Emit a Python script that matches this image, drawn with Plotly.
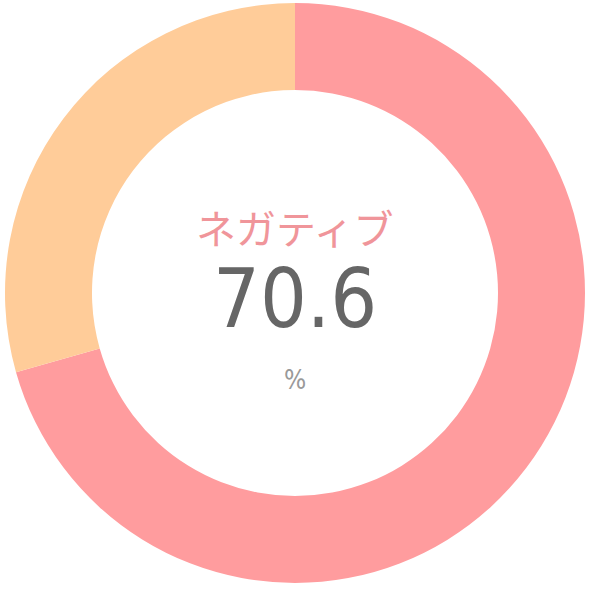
import plotly.graph_objects as go

labels = ["ネガティブ", "その他"]
values = [70.6, 29.4]
colors = ["#FF9C9E", "#FFCC99"]
center_label = "ネガティブ"
center_value = "70.6"
center_unit = "%"

fig = go.Figure(go.Pie(
    labels=labels,
    values=values,
    hole=0.70,
    sort=False,
    direction="clockwise",
    rotation=0,
    marker=dict(colors=colors, line=dict(width=0)),
    textinfo="none",
    hoverinfo="label+percent",
    showlegend=False,
))

fig.add_annotation(x=0.5, y=1 - 228 / 590, xref="paper", yref="paper",
                   text=center_label, showarrow=False,
                   font=dict(family="Noto Sans CJK JP", size=40, color="#F0959A"))
fig.add_annotation(x=0.5, y=1 - 301 / 590, xref="paper", yref="paper",
                   text=center_value, showarrow=False,
                   font=dict(family="DejaVu Sans Condensed", size=82, color="#666666"))
fig.add_annotation(x=0.5, y=1 - 383 / 590, xref="paper", yref="paper",
                   text=center_unit, showarrow=False,
                   font=dict(family="DejaVu Sans Condensed", size=26, color="#999999"))

fig.update_layout(width=590, height=590,
                  margin=dict(l=5, r=5, t=3, b=7),
                  paper_bgcolor="white", plot_bgcolor="white")
fig.write_html("out.html", config={"displayModeBar": False},
               post_script="document.body.style.margin='0';")
